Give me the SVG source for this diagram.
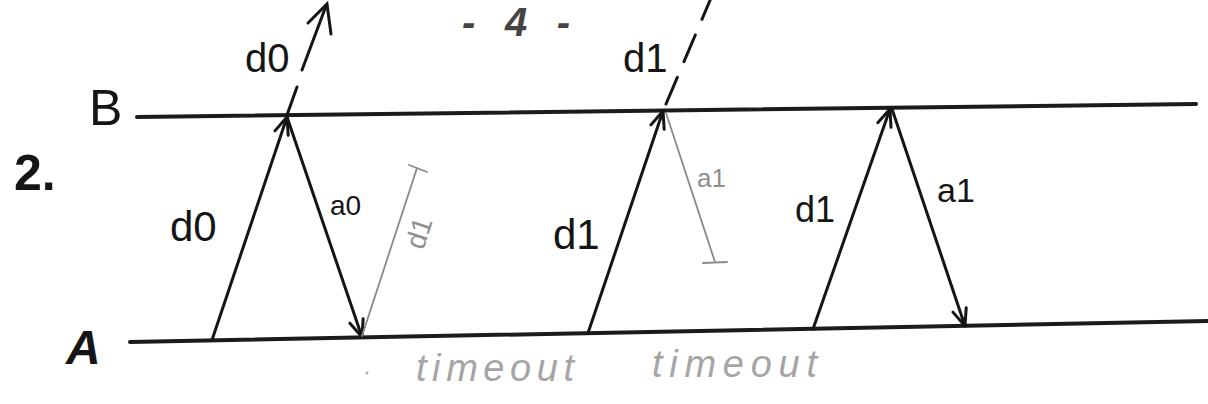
<svg xmlns="http://www.w3.org/2000/svg" width="1208" height="404" viewBox="0 0 1208 404">
  <defs>
    <marker id="arr" markerUnits="userSpaceOnUse" markerWidth="22" markerHeight="22" viewBox="0 0 22 22" refX="20" refY="11" orient="auto">
      <path d="M3,4 L20,11 L3,18" fill="none" stroke="#151515" stroke-width="3" stroke-linecap="round" stroke-linejoin="round"/>
    </marker>
    <style>
      .axis { stroke: #1c1c1c; stroke-width: 4; stroke-linecap: round; }
      .msg { stroke: #151515; stroke-width: 3; fill: none; stroke-linecap: round; marker-end: url(#arr); }
      .dash { stroke: #151515; stroke-width: 3; fill: none; stroke-linecap: round; }
      .lost { stroke: #8a8a8a; stroke-width: 1.8; fill: none; stroke-linecap: round; }
      .lbl { font-family: "Liberation Sans", "DejaVu Sans", sans-serif; fill: #151515; }
      .glbl { font-family: "Liberation Sans", "DejaVu Sans", sans-serif; fill: #8f8f8f; }
      .tmo { font-family: "Liberation Sans", "DejaVu Sans", sans-serif; fill: #a5a5a5; font-style: italic; font-size: 38px; }
      .hdr { font-family: "Liberation Sans", "DejaVu Sans", sans-serif; fill: #444; font-weight: bold; font-style: italic; }
    </style>
  </defs>

  <g id="title">
    <text class="lbl" x="14" y="190" font-size="50" font-weight="bold">2.</text>
    <text class="hdr" x="462" y="36" font-size="40" textLength="108" lengthAdjust="spacing">-4-</text>
  </g>

  <g id="node-B">
    <line class="axis" x1="137" y1="117" x2="1196" y2="104"/>
    <text class="lbl" x="89" y="125" font-size="50">B</text>
  </g>

  <g id="node-A">
    <line class="axis" x1="130" y1="342" x2="1208" y2="321"/>
    <text class="lbl" x="66" y="364" font-size="48" font-weight="bold" font-style="italic">A</text>
  </g>

  <g id="connectors">
    <!-- exchange 1 -->
    <line class="msg" x1="212" y1="340" x2="287" y2="117"/>
    <line class="msg" x1="287" y1="117" x2="362" y2="337"/>
    <!-- d0 passing through B (dashed, continuing) -->
    <path class="dash" d="M287,115 L297,87 M302,70 L326,6"/>
    <path class="dash" d="M308,23 L327,4 L331,34"/>
    <!-- lost d1 (grey) -->
    <line class="lost" x1="362" y1="336" x2="417" y2="168"/>
    <line class="lost" x1="409" y1="165" x2="427" y2="172"/>

    <!-- exchange 2 -->
    <line class="msg" x1="588" y1="333" x2="663" y2="111"/>
    <line class="dash" x1="666" y1="104" x2="711" y2="-2" stroke-dasharray="29 17"/>
    <line class="lost" x1="666" y1="113" x2="715" y2="262"/>
    <line class="lost" x1="703" y1="263" x2="727" y2="262"/>

    <!-- exchange 3 -->
    <line class="msg" x1="813" y1="329" x2="890" y2="109"/>
    <line class="msg" x1="892" y1="109" x2="965" y2="326"/>
  </g>

  <g id="labels">
    <text class="lbl" x="245" y="72" font-size="40">d0</text>
    <text class="lbl" x="623" y="72" font-size="40">d1</text>
    <text class="lbl" x="170" y="241" font-size="42">d0</text>
    <text class="lbl" x="330" y="215" font-size="28">a0</text>
    <text class="glbl" x="0" y="0" font-size="28" text-anchor="middle" transform="translate(428,236) rotate(-72)">d1</text>
    <text class="lbl" x="553" y="249" font-size="42">d1</text>
    <text class="glbl" x="697" y="187" font-size="26">a1</text>
    <text class="lbl" x="795" y="222" font-size="36">d1</text>
    <text class="lbl" x="937" y="202" font-size="34">a1</text>
  </g>

  <g id="timeouts">
    <circle cx="367" cy="373" r="1.5" fill="#b0b0b0"/>
    <text class="tmo" x="416" y="381" textLength="158" lengthAdjust="spacing">timeout</text>
    <text class="tmo" x="652" y="377" textLength="165" lengthAdjust="spacing">timeout</text>
  </g>
</svg>
